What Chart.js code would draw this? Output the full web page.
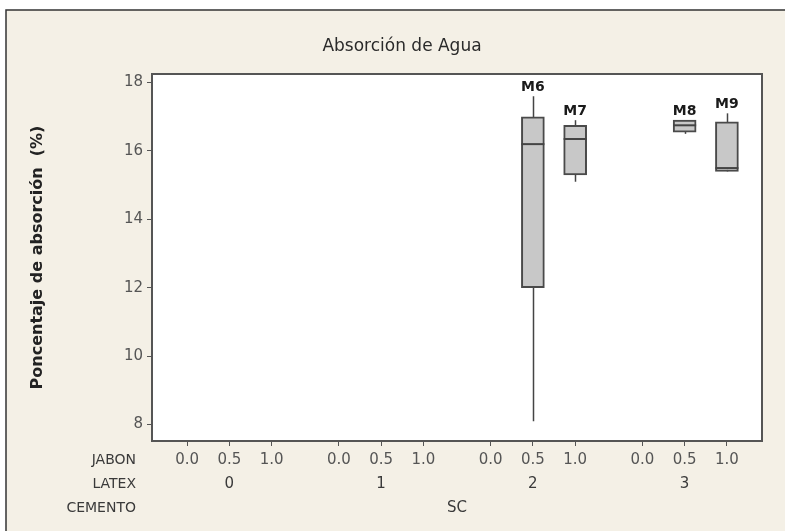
<!DOCTYPE html>
<html>
<head>
<meta charset="utf-8">
<script src="https://cdn.jsdelivr.net/npm/chart.js@4"></script>
<style>
  html, body { margin: 0; padding: 0; background: #fff; }
  #wrap { width: 785px; height: 531px; }
</style>
</head>
<body>
<div id="wrap"><canvas id="chart"></canvas></div>
<script>
// ---- DATA ----
const jabonLevels = ['0.0', '0.5', '1.0'];
const latexLevels = ['0', '1', '2', '3'];
const cementoLevel = 'SC';
const sampleNames = ['M6', 'M7', 'M8', 'M9'];
const sampleLatex = [2, 2, 3, 3];   // index into latexLevels
const sampleJabon = [1, 2, 1, 2];   // index into jabonLevels
const whiskerLow  = [8.1, 15.1, 16.5, 15.4];
const q1          = [12.0, 15.3, 16.55, 15.4];
const median      = [16.2, 16.35, 16.75, 15.5];
const q3          = [17.0, 16.75, 16.9, 16.85];
const whiskerHigh = [17.6, 16.9, 16.9, 17.1];
const yTicks = [8, 10, 12, 14, 16, 18];

// ---- LAYOUT HELPERS ----
const GROUP_STEP = 3.59;   // gap between LATEX groups, in jabon-step units
const pos = (g, j) => g * GROUP_STEP + j;
const xTicks = [];
latexLevels.forEach((l, g) => jabonLevels.forEach((jb, j) => xTicks.push(pos(g, j))));
const xLast = xTicks[xTicks.length - 1];

const FONT = '"DejaVu Sans", sans-serif';
const BG = '#f4f0e6';

const boxPlugin = {
  id: 'boxExtras',
  beforeDraw(c) {
    const ctx = c.ctx, a = c.chartArea;
    ctx.save();
    ctx.fillStyle = '#fff';
    ctx.fillRect(0, 0, c.width, c.height);
    ctx.fillStyle = BG;
    ctx.fillRect(6, 10, c.width, c.height);
    ctx.strokeStyle = '#333';
    ctx.lineWidth = 1.5;
    ctx.beginPath();
    ctx.moveTo(6, c.height); ctx.lineTo(6, 10); ctx.lineTo(c.width, 10);
    ctx.stroke();
    ctx.fillStyle = '#fff';
    ctx.fillRect(a.left, a.top, a.width, a.height);
    ctx.restore();
  },
  // whiskers under the boxes
  beforeDatasetsDraw(c) {
    const ctx = c.ctx, x = c.scales.x, y = c.scales.y;
    ctx.save();
    ctx.strokeStyle = '#444';
    ctx.lineWidth = 1.5;
    sampleNames.forEach((n, i) => {
      const px = Math.round(x.getPixelForValue(pos(sampleLatex[i], sampleJabon[i]))) + 0.5;
      ctx.beginPath();
      ctx.moveTo(px, y.getPixelForValue(whiskerLow[i]));
      ctx.lineTo(px, y.getPixelForValue(whiskerHigh[i]));
      ctx.stroke();
    });
    ctx.restore();
  },
  afterDatasetsDraw(c) {
    const ctx = c.ctx, x = c.scales.x, y = c.scales.y;
    ctx.save();
    ctx.strokeStyle = '#444';
    ctx.lineWidth = 2;
    sampleNames.forEach((n, i) => {
      const px = x.getPixelForValue(pos(sampleLatex[i], sampleJabon[i]));
      const py = y.getPixelForValue(median[i]);
      ctx.beginPath();
      ctx.moveTo(px - 11.5, py);
      ctx.lineTo(px + 11.5, py);
      ctx.stroke();
      // sample label
      ctx.fillStyle = '#1a1a1a';
      ctx.font = 'bold 14px ' + FONT;
      ctx.textAlign = 'center';
      ctx.textBaseline = 'bottom';
      ctx.fillText(n, px, y.getPixelForValue(whiskerHigh[i]) - 2);
    });
    ctx.restore();
  },
  afterDraw(c) {
    const ctx = c.ctx, a = c.chartArea, x = c.scales.x;
    ctx.save();
    // plot frame
    ctx.strokeStyle = '#555';
    ctx.lineWidth = 2;
    ctx.strokeRect(a.left, a.top, a.width, a.height);
    // title
    ctx.fillStyle = '#2a2a2a';
    ctx.font = '17px ' + FONT;
    ctx.textAlign = 'center';
    ctx.textBaseline = 'middle';
    ctx.fillText('Absorción de Agua', 402, 47);
    // extra x rows
    const rows = [x.top + 19, x.top + 43, x.top + 67];
    ctx.fillStyle = '#3a3a3a';
    ctx.font = '14px ' + FONT;
    ctx.textAlign = 'right';
    ['JABON', 'LATEX', 'CEMENTO'].forEach((h, r) => ctx.fillText(h, 136, rows[r]));
    ctx.textAlign = 'center';
    ctx.font = '15px ' + FONT;
    latexLevels.forEach((l, g) => ctx.fillText(l, x.getPixelForValue(pos(g, 1)), rows[1]));
    ctx.fillText(cementoLevel, x.getPixelForValue((xTicks[0] + xLast) / 2), rows[2]);
    ctx.restore();
  }
};

new Chart(document.getElementById('chart'), {
  type: 'bar',
  data: {
    datasets: [{
      data: sampleNames.map((n, i) => ({ x: pos(sampleLatex[i], sampleJabon[i]), y: [q1[i], q3[i]] })),
      backgroundColor: '#c8c8c8',
      borderColor: '#4a4a4a',
      borderWidth: 2,
      borderSkipped: false,
      barThickness: 23
    }]
  },
  options: {
    responsive: true,
    maintainAspectRatio: false,
    animation: false,
    layout: { padding: { left: 0, right: 23, top: 74, bottom: 0 } },
    plugins: { legend: { display: false }, tooltip: { enabled: false }, title: { display: false } },
    scales: {
      x: {
        type: 'linear',
        offset: false,
        min: -0.83,
        max: xLast + 0.83,
        afterBuildTicks: s => { s.ticks = xTicks.map(v => ({ value: v })); },
        afterFit: s => { s.height = 90; },
        grid: { offset: false, drawOnChartArea: false, tickLength: 5, color: '#555' },
        border: { display: false },
        ticks: {
          autoSkip: false, maxRotation: 0, padding: 5, color: '#555',
          font: { family: FONT, size: 15 },
          callback: (v, i) => jabonLevels[i % jabonLevels.length]
        }
      },
      y: {
        min: 7.52,
        max: 18.25,
        afterBuildTicks: s => { s.ticks = yTicks.map(v => ({ value: v })); },
        afterFit: s => { s.width = 152; },
        grid: { drawOnChartArea: false, tickLength: 5, color: '#555' },
        border: { display: false },
        ticks: { padding: 4, color: '#555', font: { family: FONT, size: 15 } },
        title: {
          display: true,
          text: 'Poncentaje de absorción  (%)',
          color: '#222',
          font: { family: FONT, size: 16, weight: 'bold' },
          padding: { top: 28, bottom: 0 }
        }
      }
    }
  },
  plugins: [boxPlugin]
});
</script>
</body>
</html>
